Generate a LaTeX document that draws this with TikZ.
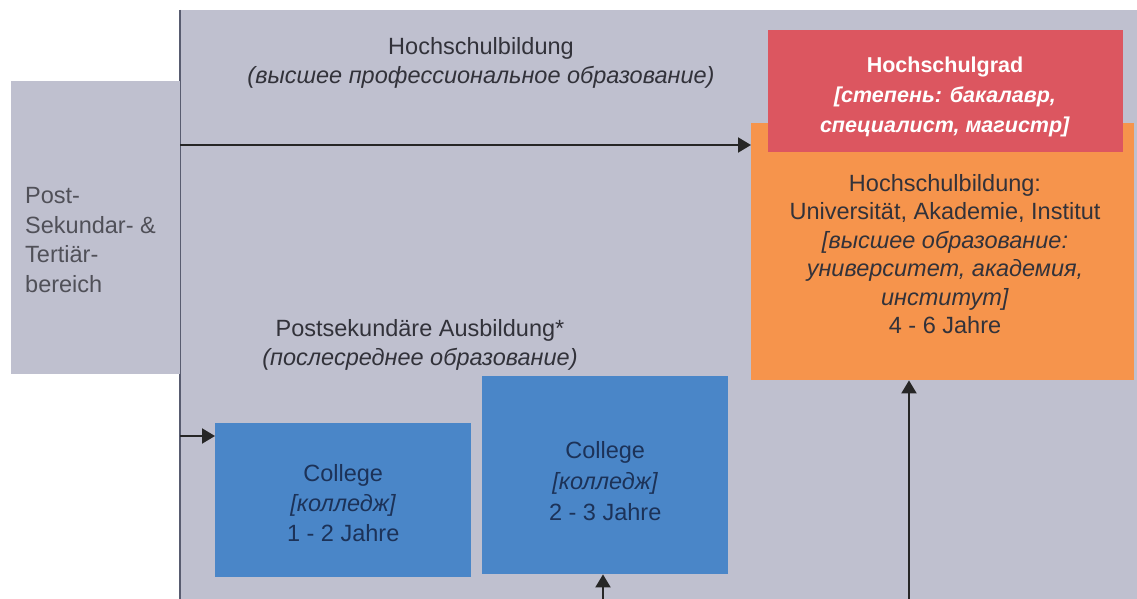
\documentclass[tikz,border=0pt]{standalone}
\usepackage{fontspec}
\setmainfont{Liberation Sans}
\usetikzlibrary{arrows.meta}
\definecolor{panel}{RGB}{191,192,207}
\definecolor{panelline}{RGB}{88,92,112}
\definecolor{degree}{RGB}{220,86,96}
\definecolor{uni}{RGB}{246,148,76}
\definecolor{college}{RGB}{74,134,200}
\definecolor{collegetext}{RGB}{28,50,88}
\definecolor{darktext}{RGB}{50,50,58}
\definecolor{greytext}{RGB}{80,80,88}
\tikzset{
  area/.style={fill=panel, draw=none, inner sep=0pt},
  block/.style={draw=none, inner sep=0pt, anchor=north west},
  label/.style={align=center, font=\fontsize{23.5}{28.5}\selectfont, inner sep=0pt},
  flow/.style={draw=black!85, line width=2pt, -{Triangle[length=13pt,width=15pt]}},
}
\begin{document}
\begin{tikzpicture}[x=1pt,y=-1pt]
\useasboundingbox (0,0) rectangle (1137,599);
\fill[white] (0,0) rectangle (1137,599);
% main panel with its left border line
\node[area, block, minimum width=957pt, minimum height=589pt] (panel) at (180,10) {};
\draw[panelline, line width=2pt] (panel.north west) -- (panel.south west);
% sector label panel on the left
\node[area, block, minimum width=169pt, minimum height=293pt] (sector) at (11,81) {};
\node[label, align=left, anchor=west, text=greytext, font=\fontsize{23.5}{29.5}\selectfont] (sectortext) at (25,240)
  {Post-\\Sekundar- \&\\Tertiär-\\bereich};

% headings
\node[label, text=darktext] (hsheading) at (481,63)
  {Hochschulbildung\\\textit{(высшее профессиональное образование)}};
\node[label, text=darktext] (psheading) at (420,345)
  {Postsekundäre Ausbildung*\\\textit{(послесреднее образование)}};

% university and degree
\node[block, fill=uni, minimum width=383pt, minimum height=257pt] (uni) at (751,123) {};
\node[label, text=darktext] (unitext) at (945,254)
  {Hochschulbildung:\\Universität, Akademie, Institut\\\textit{[высшее образование:}\\\textit{университет, академия,}\\\textit{институт]}\\4 - 6 Jahre};
\node[block, fill=degree, minimum width=355pt, minimum height=122pt] (degree) at (768,30) {};
\node[label, text=white, font=\fontsize{21.5}{30}\selectfont\bfseries] (degreetext) at (945,97)
  {Hochschulgrad\\\textit{[степень: бакалавр,}\\\textit{специалист, магистр]}};

% colleges
\node[block, fill=college, minimum width=256pt, minimum height=154pt] (college1) at (215,423) {};
\node[label, text=collegetext, font=\fontsize{23.5}{30}\selectfont] at ([yshift=-3pt]college1.center)
  {College\\\textit{[колледж]}\\1 - 2 Jahre};
\node[block, fill=college, minimum width=246pt, minimum height=198pt] (college2) at (482,376) {};
\node[label, text=collegetext, font=\fontsize{23.5}{31}\selectfont] at ([yshift=-6pt]college2.center)
  {College\\\textit{[колледж]}\\2 - 3 Jahre};

% connectors
\coordinate (hsstart) at (panel.north west |- 0,145);
\coordinate (psstart) at (panel.north west |- 0,436);
\coordinate (c2foot) at (603,599);
\coordinate (unifoot) at (909,599);
\draw[flow] (hsstart) -- (hsstart -| uni.west);
\draw[flow] (psstart) -- (psstart -| college1.west);
\draw[flow] (c2foot) -- (c2foot |- college2.south);
\draw[flow] (unifoot) -- (unifoot |- uni.south);
\end{tikzpicture}
\end{document}
